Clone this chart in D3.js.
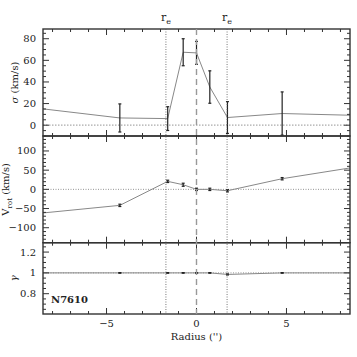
<!DOCTYPE html>
<html>
<head>
<meta charset="utf-8">
<script src="https://cdn.jsdelivr.net/npm/d3@7"></script>
<style>
  body { margin: 0; background: #fff; }
  text { font-family: "DejaVu Serif", "Liberation Serif", serif; fill: #222; }
</style>
</head>
<body>
<div id="chart"></div>
<script>
// radius (arcsec) of each point, shared by the three panels
const radius = [-9.5, -4.26, -1.6, -0.74, 0, 0.74, 1.72, 4.76, 9.5];

// velocity dispersion
const sigma = [17, 6.7, 6.1, 67.5, 66.9, 35.3, 7.1, 10.8, 8.8];
const sigmaErr = [null, 13, 11, 12.5, 10.6, 15, 14.7, 20, null];

// rotation velocity
const vrot = [-66, -41.7, 20.8, 12, 0, 0, -3.6, 27.7, 63];
const vrotErr = [null, 3, 3, 4, 3, 3, 3, 3, null];

// gamma
const gamma = [1, 1, 1, 1, 1, 1, 0.985, 1, 1];
const gammaErr = [null, 0.003, 0.003, 0.003, 0.003, 0.003, 0.005, 0.003, null];

const reRadius = 1.7;
const xTicks = [-5, 0, 5];

const W = 357, H = 357;
const margin = {left: 43, right: 7};
const panels = [
  {top: 29, bottom: 136, domain: [-10, 89], ticks: [0, 20, 40, 60, 80], minor: 5,
   values: sigma, errs: sigmaErr, fmt: d => d, titleX: 18},
  {top: 136, bottom: 242.7, domain: [-139, 139], ticks: [-100, -50, 0, 50, 100], minor: 10,
   values: vrot, errs: vrotErr, fmt: d => d < 0 ? "\u2212" + (-d) : d, titleX: 9},
  {top: 242.7, bottom: 314, domain: [0.605, 1.29], ticks: [0.8, 1, 1.2], minor: 0.05,
   values: gamma, errs: gammaErr, fmt: d => d, titleX: 17}
];

const svg = d3.select('#chart').append('svg')
  .attr('width', W).attr('height', H);

const x = d3.scaleLinear().domain([-8.53, 8.53]).range([margin.left, W - margin.right]);
const xMinor = d3.range(-8, 9, 1);

svg.append('defs').append('clipPath').attr('id', 'clip')
  .append('rect')
  .attr('x', margin.left).attr('y', panels[0].top)
  .attr('width', W - margin.right - margin.left)
  .attr('height', panels[2].bottom - panels[0].top);

const frameColor = '#333';

panels.forEach((p, k) => {
  const y = d3.scaleLinear().domain(p.domain).range([p.bottom, p.top]);
  p.y = y;
  const g = svg.append('g');
  const plot = g.append('g').attr('clip-path', 'url(#clip)');

  // zero / unity reference line
  const ref = k === 2 ? 1 : 0;
  plot.append('line')
    .attr('x1', x.range()[0]).attr('x2', x.range()[1])
    .attr('y1', y(ref)).attr('y2', y(ref))
    .attr('stroke', k === 0 ? '#aaa' : '#777')
    .attr('stroke-width', k === 0 ? 1.2 : 0.8)
    .attr('stroke-dasharray', k === 0 ? '1.5,1.5' : '1,1.5');

  // data line
  const line = d3.line().x((d, i) => x(radius[i])).y(d => y(d));
  plot.append('path')
    .datum(p.values)
    .attr('d', line)
    .attr('fill', 'none')
    .attr('stroke', '#888')
    .attr('stroke-width', 1);

  // error bars
  const pts = radius.map((r, i) => ({r, v: p.values[i], e: p.errs[i]})).filter(d => d.e != null);
  const eb = plot.append('g').attr('stroke', '#222').attr('stroke-width', 1.2);
  pts.forEach(d => {
    const y1 = y(d.v + d.e), y2 = y(d.v - d.e);
    eb.append('line').attr('x1', x(d.r)).attr('x2', x(d.r)).attr('y1', y1).attr('y2', y2);
    eb.append('line').attr('x1', x(d.r) - 1.5).attr('x2', x(d.r) + 1.5).attr('y1', y1).attr('y2', y1);
    eb.append('line').attr('x1', x(d.r) - 1.5).attr('x2', x(d.r) + 1.5).attr('y1', y2).attr('y2', y2);
  });

  // y ticks, left and right
  const [lo, hi] = p.domain;
  const minors = d3.range(Math.ceil(lo / p.minor) * p.minor, hi, p.minor)
    .map(v => +v.toFixed(4));
  const tk = g.append('g').attr('stroke', frameColor).attr('stroke-width', 1);
  minors.forEach(v => {
    const major = p.ticks.some(t => Math.abs(t - v) < 1e-6);
    const len = major ? 6 : 3;
    tk.append('line').attr('x1', x.range()[0]).attr('x2', x.range()[0] + len)
      .attr('y1', y(v)).attr('y2', y(v));
    tk.append('line').attr('x1', x.range()[1]).attr('x2', x.range()[1] - len)
      .attr('y1', y(v)).attr('y2', y(v));
  });
  g.selectAll('.ylab').data(p.ticks).enter().append('text')
    .attr('x', x.range()[0] - 7)
    .attr('y', d => y(d) + 3.5)
    .attr('text-anchor', 'end')
    .attr('font-size', 10)
    .text(p.fmt);

  // x ticks, top and bottom of each panel
  xMinor.forEach(v => {
    const major = xTicks.includes(v);
    const len = major ? 6 : 3;
    tk.append('line').attr('x1', x(v)).attr('x2', x(v))
      .attr('y1', p.top).attr('y2', p.top + len);
    tk.append('line').attr('x1', x(v)).attr('x2', x(v))
      .attr('y1', p.bottom).attr('y2', p.bottom - len);
  });

  // frame
  g.append('rect')
    .attr('x', x.range()[0]).attr('y', p.top)
    .attr('width', x.range()[1] - x.range()[0])
    .attr('height', p.bottom - p.top)
    .attr('fill', 'none')
    .attr('stroke', frameColor)
    .attr('stroke-width', 1.4);
});

// r_e dotted lines and centre dashed line
const plotTop = panels[0].top, plotBottom = panels[2].bottom;
[-reRadius, reRadius].forEach(r => {
  svg.append('line')
    .attr('x1', x(r)).attr('x2', x(r)).attr('y1', plotTop).attr('y2', plotBottom)
    .attr('stroke', '#555').attr('stroke-width', 0.8)
    .attr('stroke-dasharray', '1,1.5');
  const t = svg.append('text')
    .attr('x', x(r)).attr('y', 21)
    .attr('text-anchor', 'middle')
    .attr('font-size', 11);
  t.append('tspan').text('r');
  t.append('tspan').attr('font-size', 8).attr('dy', 2.5).text('e');
});
svg.append('line')
  .attr('x1', x(0)).attr('x2', x(0)).attr('y1', plotTop).attr('y2', plotBottom)
  .attr('stroke', '#999').attr('stroke-width', 1.4)
  .attr('stroke-dasharray', '6,4');

// x tick labels
svg.selectAll('.xlab').data(xTicks).enter().append('text')
  .attr('x', d => x(d))
  .attr('y', plotBottom + 13)
  .attr('text-anchor', 'middle')
  .attr('font-size', 10)
  .text(d => d < 0 ? "\u2212" + (-d) : d);

svg.append('text')
  .attr('x', x(0)).attr('y', plotBottom + 26)
  .attr('text-anchor', 'middle')
  .attr('font-size', 10)
  .text("Radius ('')");

// y axis titles
const midY = p => (p.top + p.bottom) / 2;
const t1 = svg.append('text')
  .attr('transform', `translate(${panels[0].titleX},${midY(panels[0])}) rotate(-90)`)
  .attr('text-anchor', 'middle').attr('font-size', 10);
t1.append('tspan').attr('font-style', 'italic').text('\u03c3');
t1.append('tspan').text(' (km/s)');

const t2 = svg.append('text')
  .attr('transform', `translate(${panels[1].titleX},${midY(panels[1])}) rotate(-90)`)
  .attr('text-anchor', 'middle').attr('font-size', 10);
t2.append('tspan').text('V');
t2.append('tspan').attr('font-size', 7).attr('dy', 2.5).text('rot');
t2.append('tspan').attr('dy', -2.5).text(' (km/s)');

svg.append('text')
  .attr('transform', `translate(${panels[2].titleX},${midY(panels[2])}) rotate(-90)`)
  .attr('text-anchor', 'middle').attr('font-size', 10)
  .attr('font-style', 'italic')
  .text('\u03b3');

// galaxy name
svg.append('text')
  .attr('x', x.range()[0] + 8).attr('y', 303)
  .attr('font-size', 10).attr('font-weight', 'bold')
  .text('N7610');
</script>
</body>
</html>
